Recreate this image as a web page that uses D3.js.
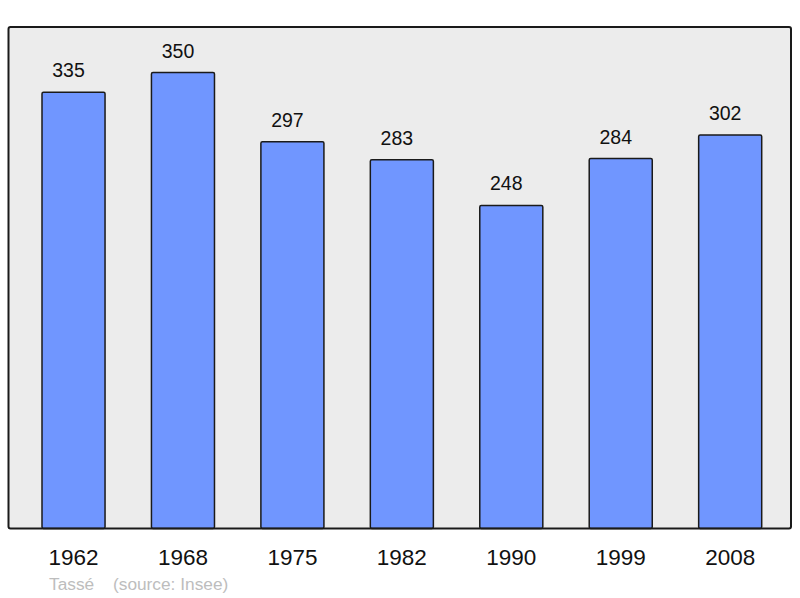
<!DOCTYPE html>
<html><head><meta charset="utf-8">
<script src="https://cdn.jsdelivr.net/npm/d3@7"></script>
<style>body{margin:0;background:#fff}svg{display:block}</style>
</head><body>
<script>
const years = ["1962","1968","1975","1982","1990","1999","2008"];
const population = [335,350,297,283,248,284,302];
const commune = "Tassé";
const source = "(source: Insee)";

const W=800,H=598;
const frame={x0:8.5,x1:791,y0:27,y1:528.5};
const svg=d3.select("body").append("svg").attr("width",W).attr("height",H);

svg.append("rect").attr("x",frame.x0).attr("y",frame.y0)
  .attr("width",frame.x1-frame.x0).attr("height",frame.y1-frame.y0)
  .attr("rx",2).attr("fill","#ececec");

const x=d3.scaleBand().domain(years).range([42,761.7]).paddingInner(0.424).paddingOuter(0);
const y=d3.scaleLinear().domain([0,385]).range([frame.y1,frame.y0]);

svg.selectAll("rect.bar").data(population).join("rect").attr("class","bar")
  .attr("x",(d,i)=>x(years[i])).attr("width",x.bandwidth())
  .attr("y",d=>y(d)).attr("height",d=>frame.y1-y(d))
  .attr("rx",1.5).attr("fill","#7096ff").attr("stroke","#1a1a1a").attr("stroke-width",1.5);

svg.selectAll("text.val").data(population).join("text").attr("class","val")
  .attr("x",(d,i)=>x(years[i])+x.bandwidth()/2-5).attr("y",d=>y(d)-15)
  .attr("text-anchor","middle").attr("font-family","Liberation Sans, Arial, sans-serif")
  .attr("font-size",19.5).attr("fill","#111").text(d=>d);

svg.append("rect").attr("x",frame.x0).attr("y",frame.y0)
  .attr("width",frame.x1-frame.x0).attr("height",frame.y1-frame.y0)
  .attr("rx",2).attr("fill","none").attr("stroke","#1a1a1a").attr("stroke-width",2);

const xAxis=d3.axisBottom(x).tickSize(0).tickPadding(0);
const gx=svg.append("g").attr("transform",`translate(0,${frame.y1})`).call(xAxis);
gx.select(".domain").remove();
gx.selectAll("text").attr("dy",null).attr("y",36)
  .attr("font-family","Liberation Sans, Arial, sans-serif").attr("font-size",22.5).attr("fill","#111");

svg.append("text").attr("x",49).attr("y",590).attr("font-family","Liberation Sans, Arial, sans-serif")
  .attr("font-size",17.3).attr("fill","#bdbdbd").text(commune);
svg.append("text").attr("x",113).attr("y",590).attr("font-family","Liberation Sans, Arial, sans-serif")
  .attr("font-size",17.3).attr("fill","#bdbdbd").text(source);
</script>
</body></html>
